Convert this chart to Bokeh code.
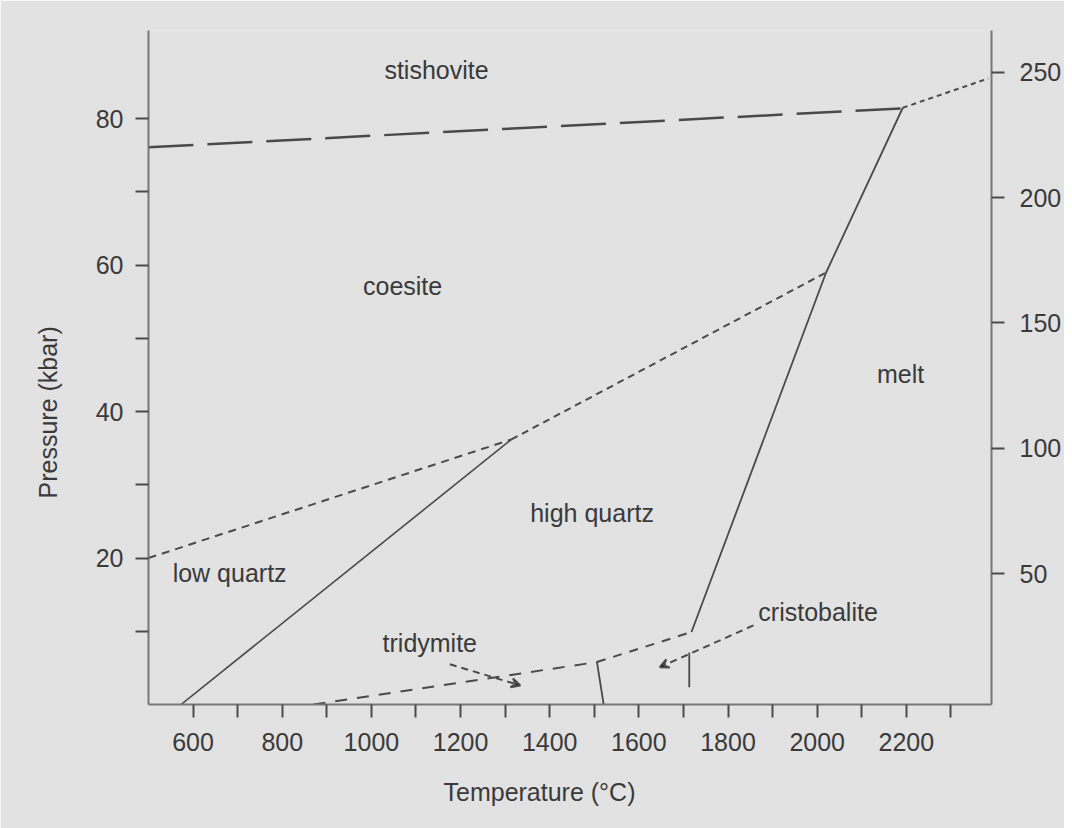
from bokeh.plotting import figure
from bokeh.models import Range1d, LinearAxis, FixedTicker, Arrow, VeeHead, ColumnDataSource, Title
from bokeh.core.properties import value
from bokeh.embed import file_html
from bokeh.resources import INLINE

# ---------------- data ----------------
x_major_ticks = [600, 800, 1000, 1200, 1400, 1600, 1800, 2000, 2200]
x_minor_ticks = [700, 900, 1100, 1300, 1500, 1700, 1900, 2100, 2300]
p_major_ticks = [20, 40, 60, 80]
p_minor_ticks = [10, 30, 50, 70]
depth_ticks = [50, 100, 150, 200, 250]

# phase boundaries (Temperature degC, Pressure kbar)
coe_sti_T = [500, 2187]
coe_sti_P = [76.1, 81.4]
sti_melt_T = [2192, 2384]
sti_melt_P = [81.5, 85.5]
coe_lq_T = [500, 1314]
coe_lq_P = [20.0, 36.2]
coe_hq_T = [1314, 2020]
coe_hq_P = [36.2, 59.0]
lq_hq_T = [573, 1314]
lq_hq_P = [0.0, 36.2]
melt_T = [1718, 2020, 2192]
melt_P = [9.9, 59.0, 81.5]
hq_tri_T = [870, 1506]
hq_tri_P = [0.0, 5.8]
hq_cri_T = [1506, 1718]
hq_cri_P = [5.8, 9.9]
tri_cri_T = [1506, 1521]
tri_cri_P = [5.8, 0.0]
cri_melt_T = [1713, 1713]
cri_melt_P = [2.35, 7.1]

# field labels
labels = ["stishovite", "coesite", "melt", "high quartz", "low quartz", "tridymite", "cristobalite"]
label_T = [1146, 1070, 2187, 1495, 682, 1131, 2002]
label_P = [86.7, 57.2, 45.2, 26.2, 17.9, 8.4, 12.7]

# leader arrows (start T, start P, end T, end P)
arrow_names = ["tridymite", "cristobalite"]
arrow_T0 = [1176, 1857]
arrow_P0 = [5.5, 10.8]
arrow_T1 = [1334, 1647]
arrow_P1 = [2.6, 5.1]

x_title = "Temperature (°C)"
y_title = "Pressure (kbar)"

# ---------------- figure ----------------
BG = "#e2e2e2"
INK = "#3a3a3a"
LINE = "#4a4a4a"
FONT = "Liberation Sans"

p = figure(width=1064, height=828, output_backend="svg", toolbar_location=None,
           x_range=Range1d(500, 2391), y_range=Range1d(0, 92.05),
           min_border_left=148, min_border_right=69, min_border_top=30, min_border_bottom=124,
           background_fill_color=BG, border_fill_color=BG, outline_line_color=None)
p.grid.visible = False

p.extra_y_ranges = {"depth": Range1d(-2.19, 266.6)}
right_axis = LinearAxis(y_range_name="depth", ticker=FixedTicker(ticks=depth_ticks))
p.add_layout(right_axis, "right")

for ax in [p.xaxis[0], p.yaxis[0], right_axis]:
    ax.axis_line_color = "#777777"
    ax.axis_line_width = 2
    ax.major_tick_line_color = LINE
    ax.minor_tick_line_color = LINE
    ax.major_tick_line_width = 2
    ax.minor_tick_line_width = 2
    ax.major_tick_in = 0
    ax.minor_tick_in = 0
    ax.major_tick_out = 13
    ax.minor_tick_out = 13
    ax.major_label_text_font = FONT
    ax.major_label_text_font_size = "25px"
    ax.major_label_text_color = INK

p.xaxis[0].ticker = FixedTicker(ticks=x_major_ticks, minor_ticks=x_minor_ticks)
p.yaxis[0].ticker = FixedTicker(ticks=p_major_ticks, minor_ticks=p_minor_ticks)
right_axis.minor_tick_out = 0
p.xaxis[0].major_label_standoff = 15
p.yaxis[0].major_label_standoff = 12
right_axis.major_label_standoff = 15

# axis titles as Titles so they can be shifted along the axis
p.add_layout(Title(text=x_title, align="left", offset=295, standoff=44,
                   text_font=FONT, text_font_size="25px", text_font_style="normal",
                   text_color=INK), "below")
p.add_layout(Title(text=y_title, align="left", offset=206, standoff=62,
                   text_font=FONT, text_font_size="25px", text_font_style="normal",
                   text_color=INK), "left")

# boundaries
p.line(coe_sti_T, coe_sti_P, line_color=LINE, line_width=2.5, line_dash="45 14")
p.line(sti_melt_T, sti_melt_P, line_color=LINE, line_width=2, line_dash="5 4")
p.line(coe_lq_T, coe_lq_P, line_color=LINE, line_width=2, line_dash="8 6")
p.line(coe_hq_T, coe_hq_P, line_color=LINE, line_width=2, line_dash="7 5")
p.line(lq_hq_T, lq_hq_P, line_color=LINE, line_width=1.6)
p.line(melt_T, melt_P, line_color=LINE, line_width=1.8)
p.line(hq_tri_T, hq_tri_P, line_color=LINE, line_width=2, line_dash="12 10")
p.line(hq_cri_T, hq_cri_P, line_color=LINE, line_width=2, line_dash="9 8")
p.line(tri_cri_T, tri_cri_P, line_color=LINE, line_width=1.8)
p.line(cri_melt_T, cri_melt_P, line_color=LINE, line_width=1.8)

for i in range(len(arrow_names)):
    p.add_layout(Arrow(x_start=arrow_T0[i], y_start=arrow_P0[i], x_end=arrow_T1[i], y_end=arrow_P1[i],
                       line_color=LINE, line_width=2, line_dash="7 5",
                       end=VeeHead(size=9, line_color=LINE, line_width=2)))

src = ColumnDataSource(dict(x=label_T, y=label_P, t=labels))
p.text(x="x", y="y", text="t", source=src, text_align="center", text_baseline="middle",
       text_font=value(FONT), text_font_size="25px", text_color=INK)

open("out.html", "w").write(file_html(p, INLINE))
